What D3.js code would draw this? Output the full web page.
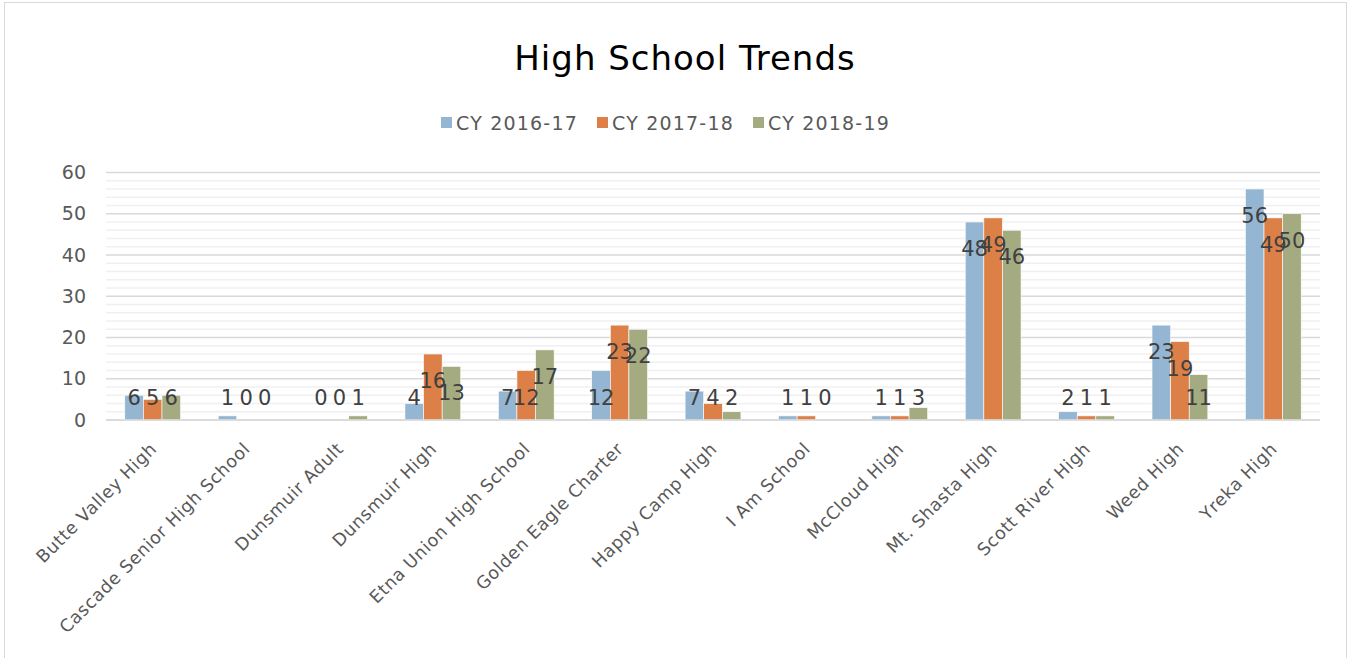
<!DOCTYPE html>
<html><head><meta charset="utf-8">
<script src="https://cdn.jsdelivr.net/npm/d3@7"></script>
<style>body{margin:0;background:#fff}svg{display:block}text{font-family:"DejaVu Sans",sans-serif}</style>
</head><body><svg id="c" width="1351" height="658"></svg>
<script>
const categories = ["Butte Valley High","Cascade Senior High School","Dunsmuir Adult","Dunsmuir High","Etna Union High School","Golden Eagle Charter","Happy Camp High","I Am School","McCloud High","Mt. Shasta High","Scott River High","Weed High","Yreka High"];
const seriesNames = ["CY 2016-17","CY 2017-18","CY 2018-19"];
const cy1617 = [6,1,0,4,7,12,7,1,1,48,2,23,56];
const cy1718 = [5,0,0,16,12,23,4,1,1,49,1,19,49];
const cy1819 = [6,0,1,13,17,22,2,0,3,46,1,11,50];
const colors = ["#94B6D2","#DD8047","#A5AB81"];
const yTicks = [0,10,20,30,40,50,60];

const svg = d3.select("#c");
const L = 106, R = 1320, T = 172.5, B = 420;

svg.append("rect").attr("x",4.5).attr("y",2.5).attr("width",1342).attr("height",670)
  .attr("fill","#fff").attr("stroke","#d9d9d9").attr("stroke-width",1);

svg.append("text").attr("x",685).attr("y",70).attr("text-anchor","middle")
  .attr("font-size",34).attr("letter-spacing",1).attr("fill","#000").text("High School Trends");

const x0 = d3.scaleBand().domain(categories).range([L,R]).padding(0);
const x1 = d3.scaleBand().domain(seriesNames).range([0,x0.bandwidth()]).paddingInner(0).paddingOuter(1.01);
const y = d3.scaleLinear().domain([0,60]).range([B,T]);

const g = svg.append("g");
g.selectAll("line.minor").data(d3.range(0,61,2).filter(v=>v%10!==0)).join("line")
  .attr("x1",L).attr("x2",R).attr("y1",d=>y(d)).attr("y2",d=>y(d))
  .attr("stroke","#f0f0f0").attr("stroke-width",1.5);
g.selectAll("line.major").data(yTicks).join("line")
  .attr("x1",L).attr("x2",R).attr("y1",d=>y(d)).attr("y2",d=>y(d))
  .attr("stroke","#d9d9d9").attr("stroke-width",1.5);

const yAxis = d3.axisLeft(y).tickValues(yTicks).tickSize(0).tickPadding(0);
const ya = svg.append("g").attr("transform",`translate(86,0)`).call(yAxis);
ya.select(".domain").remove();
ya.selectAll("text").attr("font-size",19).attr("fill","#595959").attr("font-family","DejaVu Sans, sans-serif");

const series = [cy1617,cy1718,cy1819];
const data = [];
categories.forEach((c,i)=>seriesNames.forEach((s,j)=>data.push({c,s,j,v:series[j][i]})));

svg.append("g").selectAll("rect").data(data).join("rect")
  .attr("x",d=>x0(d.c)+x1(d.s)).attr("width",x1.bandwidth())
  .attr("y",d=>y(d.v)).attr("height",d=>B-y(d.v))
  .attr("fill",d=>colors[d.j]).attr("stroke","#fff").attr("stroke-width",0.6);

svg.append("line").attr("x1",L).attr("x2",R).attr("y1",B).attr("y2",B).attr("stroke","#d9d9d9").attr("stroke-width",1.5);

svg.append("g").selectAll("text").data(data).join("text")
  .attr("x",d=>x0(d.c)+x1(d.s)+x1.bandwidth()/2)
  .attr("y",d=>Math.min(y(d.v)+26, B-23)+8)
  .attr("text-anchor","middle").attr("font-size",21).attr("fill","#404040")
  .text(d=>d.v);

const xa = svg.append("g").attr("transform",`translate(0,${B})`)
  .call(d3.axisBottom(x0).tickSize(0).tickPadding(0));
xa.select(".domain").remove();
xa.selectAll("text").attr("font-size",17.5).attr("letter-spacing",0.6).attr("fill","#595959").attr("font-family","DejaVu Sans, sans-serif")
  .attr("text-anchor","end").attr("dy",null).attr("y",null)
  .attr("transform","translate(5,30) rotate(-45)");

const lx = [441,597,753];
const lg = svg.append("g");
seriesNames.forEach((s,j)=>{
  lg.append("rect").attr("x",lx[j]).attr("y",117).attr("width",11).attr("height",11).attr("fill",colors[j]);
  lg.append("text").attr("x",lx[j]+15).attr("y",130).attr("font-size",19).attr("letter-spacing",1.2).attr("fill","#595959").text(s);
});
</script></body></html>
